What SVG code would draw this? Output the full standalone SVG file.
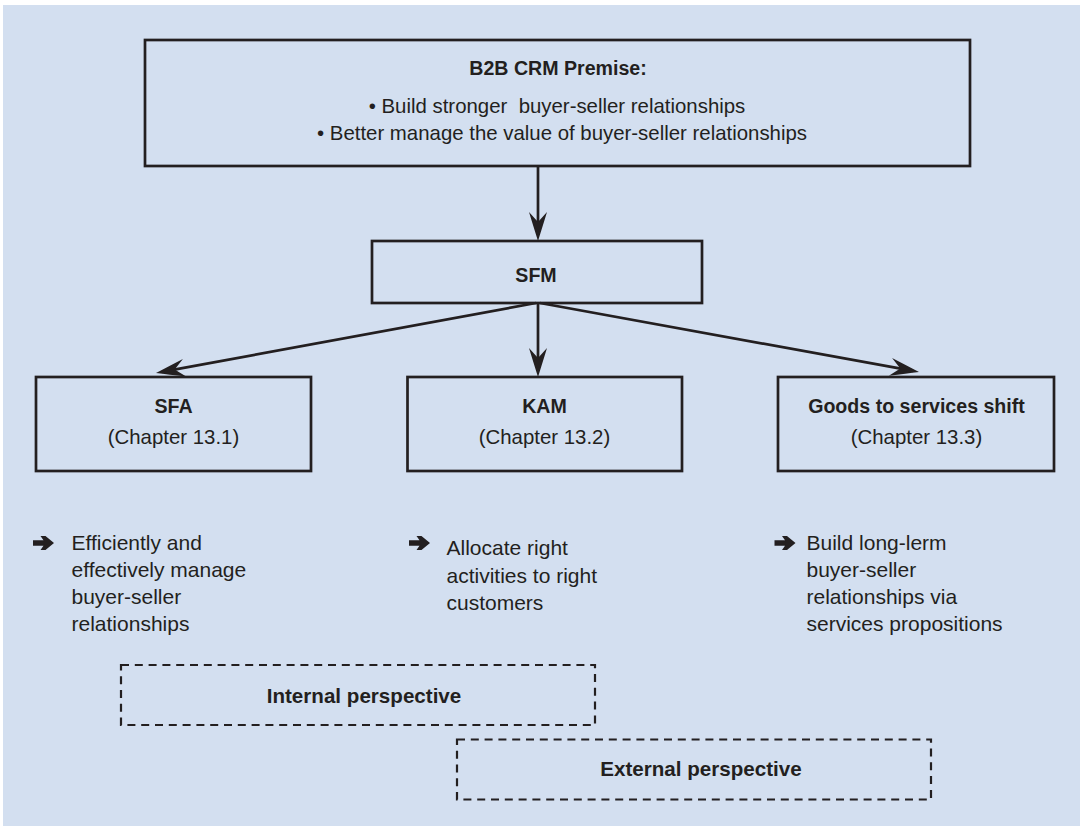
<svg xmlns="http://www.w3.org/2000/svg" width="1080" height="826" viewBox="0 0 1080 826">
<style>
  .box { fill: none; stroke: #231f20; stroke-width: 2.7; }
  .dash { fill: none; stroke: #231f20; stroke-width: 2.2; stroke-dasharray: 8 5.8; }
  .conn { fill: none; stroke: #231f20; stroke-width: 2.7; marker-end: url(#ah); }
  text { font-family: "Liberation Sans", Arial, sans-serif; fill: #231f20; }
  .b { font-weight: bold; font-size: 19.6px; text-anchor: middle; }
  .p { font-weight: bold; font-size: 20.6px; text-anchor: middle; }
  .r { font-size: 20.4px; text-anchor: middle; }
  .l { font-size: 21px; }
  .ico { fill: #231f20; }
</style>
<defs>
  <marker id="ah" markerUnits="userSpaceOnUse" markerWidth="40" markerHeight="40" refX="-6" refY="0" orient="auto" overflow="visible">
    <path d="M0,0 Q-12,-3.8 -29,-9 L-19,0 L-29,9 Q-12,3.8 0,0 Z" fill="#231f20"/>
  </marker>
  <path id="bul" d="M0,-2.8 L10.5,-2.8 L7.5,-7 L12.5,-7 L21,0 L12.5,7 L7.5,7 L10.5,2.8 L0,2.8 Z"/>
</defs>
<rect x="3" y="5" width="1077" height="821" fill="#d3dff0"/>

<g id="premise">
  <rect class="box" x="145" y="40" width="825" height="126"/>
  <text class="b" x="558" y="75">B2B CRM Premise:</text>
  <text class="r" x="557" y="113" xml:space="preserve">• Build stronger  buyer-seller relationships</text>
  <text class="r" x="562" y="140">• Better manage the value of buyer-seller relationships</text>
</g>

<g id="sfm">
  <rect class="box" x="372" y="241" width="330" height="62"/>
  <text class="b" x="536" y="282">SFM</text>
</g>

<g id="sfa">
  <rect class="box" x="36" y="377" width="275" height="94"/>
  <text class="b" x="173.5" y="413">SFA</text>
  <text class="r" x="173.5" y="444">(Chapter 13.1)</text>
</g>

<g id="kam">
  <rect class="box" x="407.5" y="377" width="274.5" height="94"/>
  <text class="b" x="544.5" y="413">KAM</text>
  <text class="r" x="544.5" y="444">(Chapter 13.2)</text>
</g>

<g id="goods">
  <rect class="box" x="778" y="377" width="276" height="94"/>
  <text class="b" x="916.5" y="413">Goods to services shift</text>
  <text class="r" x="916.5" y="444">(Chapter 13.3)</text>
</g>

<g id="sfa-note">
  <use href="#bul" class="ico" x="33" y="543"/>
  <text class="l" x="71.5" y="550">Efficiently and</text>
  <text class="l" x="71.5" y="577">effectively manage</text>
  <text class="l" x="71.5" y="604">buyer-seller</text>
  <text class="l" x="71.5" y="631">relationships</text>
</g>

<g id="kam-note">
  <use href="#bul" class="ico" x="409" y="543"/>
  <text class="l" x="446.5" y="555">Allocate right</text>
  <text class="l" x="446.5" y="582.5">activities to right</text>
  <text class="l" x="446.5" y="610">customers</text>
</g>

<g id="goods-note">
  <use href="#bul" class="ico" x="774.5" y="543"/>
  <text class="l" x="806.5" y="550">Build long-lerm</text>
  <text class="l" x="806.5" y="577">buyer-seller</text>
  <text class="l" x="806.5" y="604">relationships via</text>
  <text class="l" x="806.5" y="631">services propositions</text>
</g>

<g id="internal">
  <rect class="dash" x="121" y="665" width="474" height="60"/>
  <text class="p" x="364" y="703">Internal perspective</text>
</g>

<g id="external">
  <rect class="dash" x="457" y="739.5" width="474" height="60"/>
  <text class="p" x="701" y="775.5">External perspective</text>
</g>

<g id="connectors">
  <line class="conn" x1="538" y1="166" x2="538" y2="235"/>
  <line class="conn" x1="538" y1="303" x2="538" y2="371"/>
  <line class="conn" x1="536" y1="303" x2="161.9" y2="371.9"/>
  <line class="conn" x1="540" y1="303" x2="913.1" y2="370.9"/>
</g>
</svg>
